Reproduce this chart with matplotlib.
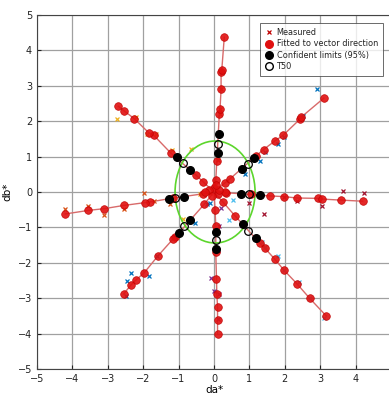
import numpy as np
import matplotlib
matplotlib.use("Agg")
import matplotlib.pyplot as plt
from matplotlib.patches import Ellipse
from matplotlib.lines import Line2D

# Fitted points per spoke (da*, db*)
fit_up_x = [0.05, 0.08, 0.15, 0.17, 0.20, 0.20, 0.22, 0.29]
fit_up_y = [0.33, 0.88, 2.20, 2.35, 2.90, 3.38, 3.45, 4.37]
fit_dn_x = [0.03, 0.05, 0.05, 0.07, 0.08, 0.10, 0.10, 0.10]
fit_dn_y = [-0.50, -0.95, -1.70, -2.45, -2.87, -3.25, -3.62, -4.00]
fit_rt_x = [0.33, 1.05, 1.57, 1.97, 2.35, 2.95, 3.05, 3.60, 4.20]
fit_rt_y = [-0.02, -0.07, -0.11, -0.13, -0.17, -0.18, -0.20, -0.23, -0.26]
fit_lt_x = [-0.30, -1.15, -1.80, -1.95, -2.55, -3.10, -3.55, -4.20]
fit_lt_y = [-0.05, -0.17, -0.28, -0.30, -0.38, -0.47, -0.52, -0.62]
fit_ur_x = [0.30, 0.45, 1.20, 1.40, 1.73, 1.95, 2.42, 2.47, 3.10]
fit_ur_y = [0.25, 0.37, 1.03, 1.20, 1.45, 1.60, 2.05, 2.12, 2.65]
fit_ul_x = [-0.30, -0.50, -1.22, -1.70, -1.85, -2.25, -2.55, -2.70]
fit_ul_y = [0.28, 0.47, 1.10, 1.60, 1.68, 2.07, 2.30, 2.42]
fit_ll_x = [-0.28, -1.10, -1.15, -1.58, -1.97, -2.20, -2.35, -2.55]
fit_ll_y = [-0.35, -1.28, -1.32, -1.80, -2.28, -2.48, -2.63, -2.88]
fit_lr_x = [0.25, 0.60, 1.30, 1.43, 1.72, 1.97, 2.35, 2.70, 3.17]
fit_lr_y = [-0.28, -0.68, -1.45, -1.58, -1.90, -2.20, -2.60, -3.00, -3.50]
fit_c_x = [0.00, -0.15, 0.10, -0.25, 0.30, -0.05, 0.15, 0.05]
fit_c_y = [0.10, 0.05, -0.05, 0.00, 0.00, -0.10, 0.05, 0.20]

# Confidence limits (95%)
cl_x = [0.13, 0.10, 0.05, 0.05, 1.30, 0.77, -1.28, -0.85, 1.13, 0.80,
        -1.05, -0.68, -0.98, -0.68, 1.20, 0.82]
cl_y = [1.63, 1.10, -1.60, -1.13, -0.08, -0.05, -0.20, -0.13, 0.95, 0.65,
        0.98, 0.63, -1.15, -0.78, -1.30, -0.90]
# T50
t50_x = [0.12, 0.05, 1.00, -1.10, 0.97, -0.88, -0.85, 0.97]
t50_y = [1.37, -1.37, -0.07, -0.17, 0.80, 0.83, -0.95, -1.10]

# Measured points per spoke
m_ul_x = [-2.73, -2.20, -1.90, -1.65, -1.20, -0.65, -0.88, -0.40]
m_ul_y = [2.07, 2.12, 1.65, 1.63, 1.20, 1.22, -0.75, -0.05]
m_lt_x = [-4.20, -3.55, -3.10, -2.55, -1.97, -1.70, -1.25, -0.10]
m_lt_y = [-0.47, -0.40, -0.65, -0.48, -0.02, -0.25, -0.33, -0.03]
m_rt_x = [4.25, 3.63, 3.05, 2.35, 1.97, 1.42, 1.00]
m_rt_y = [-0.04, 0.03, -0.40, -0.25, -0.15, -0.63, -0.30]
m_ur_x = [2.90, 2.50, 1.80, 1.97, 1.43, 1.30, 0.88]
m_ur_y = [2.90, 2.15, 1.35, 1.55, 1.12, 0.88, 0.50]
m_lr_x = [3.10, 2.72, 2.40, 1.97, 1.80, 1.45, 1.37, 0.43, 0.55]
m_lr_y = [-3.55, -3.00, -2.55, -2.20, -1.82, -1.55, -1.42, -0.80, -0.22]
m_ll_x = [-2.50, -2.45, -2.35, -1.85, -1.60, -1.17, -0.55, -0.10, -0.20]
m_ll_y = [-2.95, -2.52, -2.30, -2.38, -1.80, -1.30, -0.87, -0.30, -0.35]
m_dn_x = [-0.08, 0.00, 0.15, 0.10, 0.15, 0.20, 0.10]
m_dn_y = [-2.43, -2.80, -2.87, -1.65, -0.95, -0.45, -3.60]
m_up_x = [0.22, 0.20, 0.17, 0.18, 0.10]
m_up_y = [3.38, 2.90, 2.35, 2.20, 0.90]

ticks = [-5, -4, -3, -2, -1, 0, 1, 2, 3, 4, 5]

fig = plt.figure(figsize=(3.89, 3.96), dpi=100)
ax = fig.add_axes([37/389, 27/396, 354/389, 354/396])

ax.set_xlim(-5, 5)
ax.set_ylim(-5, 5)
ax.set_xticks(ticks)
ax.set_yticks(ticks)
ax.grid(True, color='#a0a0a0', linewidth=0.9)
ax.set_axisbelow(True)
ax.tick_params(direction='in', labelsize=7, length=3, colors='#222222')
for s in ax.spines.values():
    s.set_color('#444444')
    s.set_linewidth(0.8)

line_col = '#d86a6a'
spokes = [(fit_up_x, fit_up_y), (fit_dn_x, fit_dn_y), (fit_rt_x, fit_rt_y),
          (fit_lt_x, fit_lt_y), (fit_ur_x, fit_ur_y), (fit_ul_x, fit_ul_y),
          (fit_ll_x, fit_ll_y), (fit_lr_x, fit_lr_y)]
for sx, sy in spokes:
    ax.plot([0] + list(sx), [0] + list(sy), color=line_col, lw=1.0, zorder=2)

mcols = {'ul': '#EDB120', 'lt': '#D95319', 'rt': '#A2142F', 'ur': '#0072BD',
         'lr': '#4DBEEE', 'll': '#0072BD', 'dn': '#7E2F8E', 'up': '#D95319'}
meas = [('ul', m_ul_x, m_ul_y), ('lt', m_lt_x, m_lt_y), ('rt', m_rt_x, m_rt_y),
        ('ur', m_ur_x, m_ur_y), ('lr', m_lr_x, m_lr_y), ('ll', m_ll_x, m_ll_y),
        ('dn', m_dn_x, m_dn_y), ('up', m_up_x, m_up_y)]
for k, mx, my in meas:
    ax.plot(mx, my, 'x', color=mcols[k], ms=3.5, mew=0.9, zorder=3)

for sx, sy in spokes + [(fit_c_x, fit_c_y)]:
    ax.plot(sx, sy, 'o', color='#e01010', mec='#c00000', ms=5.5, mew=0.5,
            alpha=0.9, zorder=4)

ax.plot(cl_x, cl_y, 'o', color='black', ms=5.5, zorder=5)
ax.plot(t50_x, t50_y, 'o', mfc='none', mec='black', ms=5.5, mew=0.9, zorder=6)

ax.add_patch(Ellipse((0.03, 0.0), 2.26, 2.88, fill=False, ec='#5cd62c',
                     lw=1.2, zorder=3))

handles = [
    Line2D([], [], ls='none', marker='x', color='#c00000', ms=3.5, mew=0.9),
    Line2D([], [], ls='none', marker='o', color='#e01010', ms=5.5),
    Line2D([], [], ls='none', marker='o', color='black', ms=5.5),
    Line2D([], [], ls='none', marker='o', mfc='none', mec='black', ms=5.5),
]
labels = ['Measured', 'Fitted to vector direction', 'Confident limits (95%)', 'T50']
leg = ax.legend(handles, labels, loc='upper right', bbox_to_anchor=(0.982, 0.982),
                fontsize=5.9, frameon=True, fancybox=False, edgecolor='#444444',
                handlelength=0.8, handletextpad=0.6, borderpad=0.6,
                labelspacing=0.3, borderaxespad=0.2)
leg.get_frame().set_linewidth(0.7)
for t in leg.get_texts():
    t.set_color('#222222')

ax.set_xlabel('da*', fontsize=7.5, labelpad=1)
ax.set_ylabel('db*', fontsize=7.5, labelpad=4)

fig.savefig('out.png', dpi=100)
